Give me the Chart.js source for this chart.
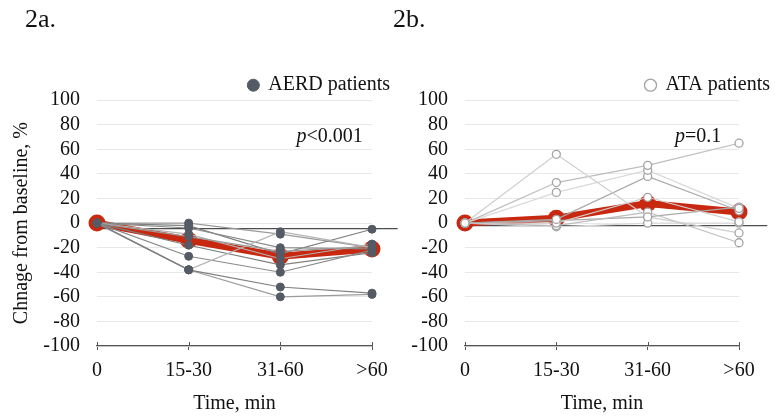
<!DOCTYPE html>
<html>
<head>
<meta charset="utf-8">
<script src="https://cdn.jsdelivr.net/npm/chart.js@4.4.1/dist/chart.umd.min.js"></script>
<style>
  html, body { margin: 0; padding: 0; background: #fff; overflow: hidden; width: 775px; height: 418px; }
  canvas { position: absolute; top: 0; }
  #aerd { left: 0; }
  #ata { left: 385px; }
</style>
</head>
<body>
<canvas id="aerd" width="400" height="418"></canvas>
<canvas id="ata" width="395" height="418"></canvas>
<script>
// Time points on the x axis
const timeLabels = ['0', '15-30', '31-60', '>60'];

// AERD patients: % change from baseline at each time point
const aerd1  = [0, -38, -52, -57];
const aerd2  = [0, -38, -60, -58];
const aerd3  = [0, -38, -7, -20];
const aerd4  = [0, -27, -40, -22];
const aerd5  = [0, -18, -34, -24];
const aerd6  = [0, -11, -23, -19];
const aerd7  = [0, -9, -29, -17];
const aerd8  = [0, -4, -20, -21];
const aerd9  = [0, -2, -25, -5];
const aerd10 = [0, 0, -9, -20];
const aerdMean = [0, -14, -27, -21];

// ATA patients: % change from baseline at each time point
const ata1 = [0, 56, 5, -8];
const ata2 = [0, 33, 47, 65];
const ata3 = [0, 25, 43, 12];
const ata4 = [0, 3, 38, 10];
const ata5 = [0, 0, 21, 1];
const ata6 = [0, -2, 9, -16];
const ata7 = [0, -3, 0, 0];
const ata8 = [0, 2, 5, 13];
const ataMean = [0, 4, 16, 9];

// Panel headings, legend names and p-value notes
const panelTitles = ['2a.', '2b.'];
const groupNames = ['AERD patients', 'ATA patients'];
const pNotes = ['<0.001', '=0.1'];
const baselineLevels = [-4.5, -2];

const SERIF = '"Liberation Serif", "Times New Roman", serif';
const FS = 20;
Chart.defaults.font.family = SERIF;
Chart.defaults.font.size = FS;
Chart.defaults.color = '#111';

const RED = '#c8280f';

function patientSets(rows, name, style) {
  return rows.map((vals, i) => ({
    label: i === 0 ? name : name + ' #' + (i + 1),
    data: vals,
    borderColor: style.lines[i % style.lines.length],
    borderWidth: 1.2,
    pointRadius: 4,
    pointHoverRadius: 4,
    pointStyle: 'circle',
    pointBackgroundColor: style.fill,
    pointBorderColor: style.edge,
    pointBorderWidth: style.edgeWidth,
    tension: 0,
    spanGaps: true,
    clip: false,
    order: 0
  }));
}

function meanSet(vals, name) {
  return {
    label: name + ' mean',
    data: vals,
    borderColor: RED,
    borderWidth: 7,
    pointRadius: 8.5,
    pointHoverRadius: 8.5,
    pointBackgroundColor: RED,
    pointBorderColor: RED,
    pointBorderWidth: 0,
    tension: 0,
    clip: false,
    order: 1
  };
}

// Baseline rule, tick marks crossing the time axis, and p-value note
const annotate = {
  id: 'annotate',
  beforeDatasetsDraw(chart, args, opts) {
    const { ctx, scales: { x, y } } = chart;
    const yy = y.getPixelForValue(opts.baseline);
    ctx.save();
    ctx.strokeStyle = '#4e4e4e';
    ctx.lineWidth = 1.3;
    ctx.beginPath();
    ctx.moveTo(x.getPixelForValue(0), yy);
    ctx.lineTo(x.getPixelForValue(opts.lineEnd), yy);
    ctx.stroke();
    // short inner halves of the time-axis tick marks
    const yb = chart.chartArea.bottom;
    ctx.strokeStyle = '#555';
    ctx.lineWidth = 1;
    ctx.beginPath();
    timeLabels.forEach((_, i) => {
      const px = Math.round(x.getPixelForValue(i)) + 0.5;
      ctx.moveTo(px, yb - 4);
      ctx.lineTo(px, yb);
    });
    ctx.stroke();
    ctx.restore();
  },
  afterDraw(chart, args, opts) {
    const { ctx, scales: { x, y } } = chart;
    const italic = 'italic ' + FS + 'px ' + SERIF;
    const roman = FS + 'px ' + SERIF;
    ctx.save();
    ctx.fillStyle = '#111';
    ctx.textBaseline = 'alphabetic';
    ctx.font = italic;
    const w1 = ctx.measureText('p').width;
    ctx.font = roman;
    const w2 = ctx.measureText(opts.rest).width;
    let px = x.getPixelForValue(opts.at);
    if (opts.anchor === 'end') px -= (w1 + w2);
    const py = y.getPixelForValue(opts.level);
    ctx.font = italic;
    ctx.fillText('p', px, py);
    ctx.font = roman;
    ctx.fillText(opts.rest, px + w1, py);
    ctx.restore();
  }
};

function panel(canvasId, cfg) {
  return new Chart(document.getElementById(canvasId), {
    type: 'line',
    data: {
      labels: timeLabels,
      datasets: [...patientSets(cfg.rows, cfg.name, cfg.style), meanSet(cfg.mean, cfg.name)]
    },
    plugins: [annotate],
    options: {
      responsive: false,
      devicePixelRatio: 1,
      animation: false,
      events: [],
      layout: { padding: { left: cfg.padLeft, top: 5, right: 0, bottom: 0 } },
      scales: {
        x: {
          type: 'category',
          offset: false,
          grid: { drawOnChartArea: false, drawTicks: true, tickLength: 4, color: '#555', lineWidth: 1 },
          border: { display: true, color: '#555', width: 1.2 },
          ticks: { padding: 9, maxRotation: 0, autoSkip: false, color: '#111' },
          title: { display: true, text: 'Time, min', color: '#111', padding: { top: 0, bottom: 2 } },
          afterFit(s) { s.height = 72; }
        },
        y: {
          type: 'linear',
          min: -100,
          max: 100,
          ticks: { stepSize: 20, padding: 17, color: '#111', autoSkip: false },
          grid: { color: '#e8e8e8', lineWidth: 1, drawTicks: false },
          border: { display: false },
          title: {
            display: cfg.yTitle !== '',
            text: cfg.yTitle,
            color: '#111',
            padding: { top: -15, bottom: 0 }
          },
          afterFit(s) { s.width = 72; }
        },
        yRight: {
          type: 'linear',
          position: 'right',
          display: true,
          grid: { display: false },
          border: { display: false },
          ticks: { display: false },
          afterFit(s) { s.width = cfg.rightGap; }
        }
      },
      plugins: {
        title: {
          display: true,
          text: cfg.title,
          align: 'start',
          color: '#111',
          font: { size: 26, weight: 'normal' },
          padding: { top: 0, bottom: 29 }
        },
        legend: {
          display: true,
          position: 'top',
          align: 'end',
          maxHeight: 35,
          labels: {
            usePointStyle: true,
            boxWidth: 10,
            boxHeight: 8.5,
            padding: 10,
            color: '#111',
            filter: (item) => item.datasetIndex === 0
          }
        },
        tooltip: { enabled: false },
        annotate: cfg.annotate
      }
    }
  });
}

panel('aerd', {
  title: panelTitles[0],
  name: groupNames[0],
  rows: [aerd1, aerd2, aerd3, aerd4, aerd5, aerd6, aerd7, aerd8, aerd9, aerd10],
  mean: aerdMean,
  style: { lines: ['#7f7f7f', '#9b9b9b', '#b3b3b3', '#8a8a8a'], fill: '#555b64', edge: '#555b64', edgeWidth: 1 },
  padLeft: 25,
  rightGap: 28,
  yTitle: 'Chnage from baseline, %',
  annotate: { baseline: baselineLevels[0], lineEnd: 3.28, rest: pNotes[0], at: 2.9, anchor: 'end', level: 66 }
});

panel('ata', {
  title: panelTitles[1],
  name: groupNames[1],
  rows: [ata1, ata2, ata3, ata4, ata5, ata6, ata7, ata8],
  mean: ataMean,
  style: { lines: ['#cfcfcf', '#bdbdbd', '#d9d9d9', '#a9a9a9'], fill: '#ffffff', edge: '#a3a3a3', edgeWidth: 1.3 },
  padLeft: 8,
  rightGap: 41,
  yTitle: '',
  annotate: { baseline: baselineLevels[1], lineEnd: 3.31, rest: pNotes[1], at: 2.3, anchor: 'start', level: 66 }
});
</script>
</body>
</html>
